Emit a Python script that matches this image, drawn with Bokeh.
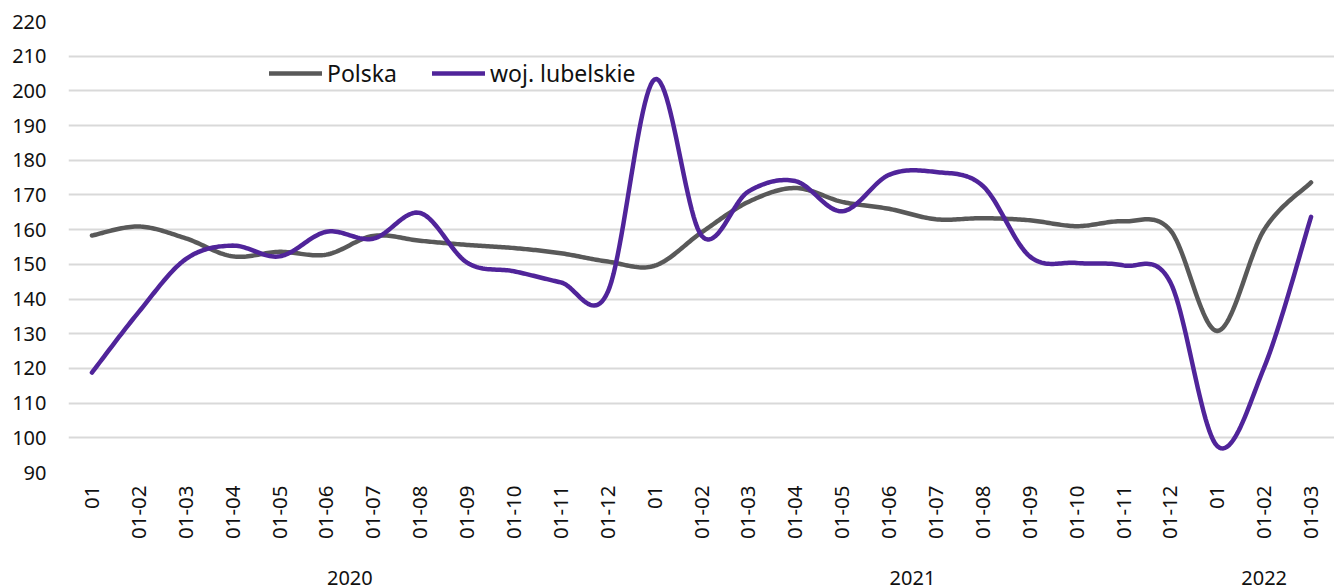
import numpy as np
from bokeh.plotting import figure
from bokeh.models import Range1d, FixedTicker, LinearAxis, Legend, LegendItem
from bokeh.embed import file_html
from bokeh.resources import INLINE

# ---- data ----
months = ["01", "01-02", "01-03", "01-04", "01-05", "01-06", "01-07", "01-08", "01-09", "01-10", "01-11", "01-12",
          "01", "01-02", "01-03", "01-04", "01-05", "01-06", "01-07", "01-08", "01-09", "01-10", "01-11", "01-12",
          "01", "01-02", "01-03"]
years = ["2020", "2021", "2022"]
year_counts = [12, 12, 3]
polska = [158.3, 160.9, 157.5, 152.3, 153.6, 152.8, 158.2, 156.8, 155.6, 154.7, 153.2, 150.8,
          149.6, 159.2, 168.0, 172.0, 168.0, 166.0, 163.0, 163.3, 162.7, 161.0, 162.4, 159.8,
          130.8, 160.0, 173.6]
lubelskie = [118.8, 136.3, 151.5, 155.4, 152.3, 159.4, 157.4, 164.8, 150.5, 148.0, 144.8, 142.0,
             203.3, 158.3, 171.0, 174.0, 165.3, 175.8, 176.6, 172.6, 152.3, 150.4, 149.7, 144.8,
             97.6, 120.3, 163.7]

FONT = "Noto Sans"


def smooth(xs, ys, n=24):
    xs = np.asarray(xs, float)
    ys = np.asarray(ys, float)
    px = np.concatenate([[xs[0]], xs, [xs[-1]]])
    py = np.concatenate([[ys[0]], ys, [ys[-1]]])
    ox, oy = [], []
    t = np.linspace(0, 1, n, endpoint=False)
    for i in range(1, len(px) - 2):
        p0 = np.array([px[i], py[i]])
        p3 = np.array([px[i + 1], py[i + 1]])
        c1 = p0 + (np.array([px[i + 1], py[i + 1]]) - np.array([px[i - 1], py[i - 1]])) / 6
        c2 = p3 - (np.array([px[i + 2], py[i + 2]]) - np.array([px[i], py[i]])) / 6
        b = ((1 - t) ** 3)[:, None] * p0 + (3 * (1 - t) ** 2 * t)[:, None] * c1 + \
            (3 * (1 - t) * t ** 2)[:, None] * c2 + (t ** 3)[:, None] * p3
        ox.extend(b[:, 0]); oy.extend(b[:, 1])
    ox.append(xs[-1]); oy.append(ys[-1])
    return ox, oy


x = list(range(len(months)))

p = figure(frame_width=1266, frame_height=451, output_backend="svg", toolbar_location=None,
           x_range=Range1d(-0.5, len(months) - 0.5), y_range=Range1d(90, 220),
           min_border_left=68, min_border_right=0, min_border_top=21, min_border_bottom=0,
           x_axis_location=None)
p.outline_line_color = None
p.background_fill_color = "white"

# y axis
p.yaxis.ticker = FixedTicker(ticks=list(range(90, 221, 10)))
p.yaxis.axis_line_color = None
p.yaxis.major_tick_line_color = None
p.yaxis.minor_tick_line_color = None
p.yaxis.major_label_text_font = FONT
p.yaxis.major_label_text_font_size = "20px"
p.yaxis.major_label_text_color = "#111111"
p.yaxis.major_label_standoff = 16

p.ygrid.grid_line_color = "#d9d9d9"
p.ygrid.grid_line_width = 2
p.xgrid.grid_line_color = None

# x axis (months)
xa = LinearAxis(ticker=FixedTicker(ticks=x),
                major_label_overrides={i: m for i, m in enumerate(months)})
xa.major_label_orientation = np.pi / 2
xa.axis_line_color = None
xa.major_tick_line_color = None
xa.minor_tick_line_color = None
xa.major_label_text_font = FONT
xa.major_label_text_font_size = "20.5px"
xa.major_label_text_color = "#111111"
xa.major_label_standoff = 7
p.add_layout(xa, "below")

# x axis (years)
centers = []
start = 0
for c in year_counts:
    centers.append(start + (c - 1) / 2)
    start += c
ya = LinearAxis(ticker=FixedTicker(ticks=centers),
                major_label_overrides={c: y for c, y in zip(centers, years)})
ya.axis_line_color = None
ya.major_tick_line_color = None
ya.minor_tick_line_color = None
ya.major_label_text_font = FONT
ya.major_label_text_font_size = "20px"
ya.major_label_text_color = "#111111"
ya.major_label_standoff = 22
p.add_layout(ya, "below")

# small empty axis as bottom padding so the year labels are not clipped
pad = LinearAxis(ticker=FixedTicker(ticks=[]))
pad.axis_line_color = None
pad.major_tick_line_color = None
pad.minor_tick_line_color = None
pad.major_label_standoff = 0
pad.axis_label = " "
pad.axis_label_text_font_size = "4px"
pad.axis_label_standoff = 0
p.add_layout(pad, "below")

sx, sy = smooth(x, polska)
lx, ly = smooth(x, lubelskie)
r1 = p.line(sx, sy, line_color="#595959", line_width=4.5, line_cap="round", line_join="round")
r2 = p.line(lx, ly, line_color="#50249a", line_width=4.5, line_cap="round", line_join="round")

legend = Legend(items=[LegendItem(label="Polska", renderers=[r1]),
                       LegendItem(label="woj. lubelskie", renderers=[r2])],
                orientation="horizontal", location=(201, 383))
legend.background_fill_alpha = 0
legend.border_line_alpha = 0
legend.padding = 0
legend.margin = 0
legend.glyph_width = 53
legend.glyph_height = 20
legend.label_standoff = 5
legend.spacing = 35
legend.label_text_font = FONT
legend.label_text_font_size = "23px"
legend.label_text_color = "#111111"
p.add_layout(legend, "center")

open("out.html", "w").write(file_html(p, INLINE))
